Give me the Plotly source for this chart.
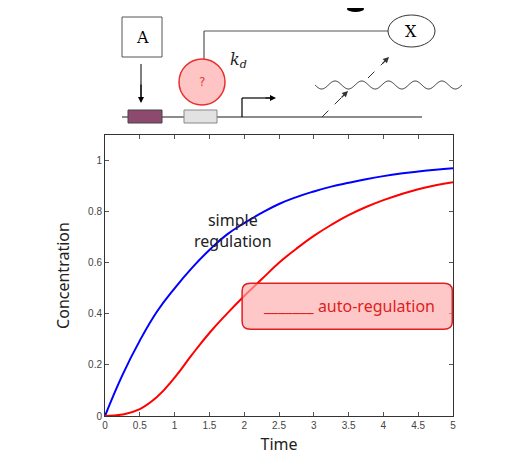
import numpy as np
import plotly.graph_objects as go

time = [0, 0.25, 0.5, 0.75, 1, 1.25, 1.5, 1.75, 2, 2.25, 2.5, 2.75, 3, 3.25, 3.5, 3.75, 4, 4.25, 4.5, 4.75, 5]
simple = [0, 0.16, 0.295, 0.41, 0.50, 0.58, 0.65, 0.71, 0.755, 0.795, 0.83, 0.857, 0.879, 0.898, 0.913, 0.927, 0.939, 0.949, 0.957, 0.964, 0.97]
auto = [0, 0.006, 0.027, 0.075, 0.15, 0.24, 0.325, 0.40, 0.47, 0.535, 0.60, 0.655, 0.705, 0.748, 0.786, 0.818, 0.845, 0.868, 0.888, 0.903, 0.915]
xticks = [0, 0.5, 1, 1.5, 2, 2.5, 3, 3.5, 4, 4.5, 5]
yticks = [0, 0.2, 0.4, 0.6, 0.8, 1]

W, H = 520, 471
OFF = 8
L, R, T, B = 105, 453, 135, 416
def px(x): return (x - L) / (R - L)
def py(y): return (B - y) / (B - T)

fig = go.Figure()
fig.add_trace(go.Scatter(x=time, y=simple, mode="lines", line=dict(color="#0000ff", width=2, shape="spline", smoothing=1.3), showlegend=False))
fig.add_trace(go.Scatter(x=time, y=auto, mode="lines", line=dict(color="#ff0000", width=2, shape="spline", smoothing=1.3), showlegend=False))

shapes = []
ann = []
def rect(x0, y0, x1, y1, fill, line="black", w=1):
    shapes.append(dict(type="rect", xref="paper", yref="paper", x0=px(x0), x1=px(x1), y0=py(y1), y1=py(y0),
                       fillcolor=fill, line=dict(color=line, width=w)))
def seg(x0, y0, x1, y1, color="#555", w=1.5, dash="solid"):
    shapes.append(dict(type="line", xref="paper", yref="paper", x0=px(x0), x1=px(x1), y0=py(y0), y1=py(y1),
                       line=dict(color=color, width=w, dash=dash)))
def arrowhead(x, y, dx, dy, color="black"):
    ann.append(dict(xref="paper", yref="paper", x=px(x), y=py(y), ax=dx, ay=dy, axref="pixel", ayref="pixel",
                    showarrow=True, arrowhead=2, arrowsize=1, arrowwidth=1.2, arrowcolor=color, text=""))
def txt(x, y, s, size=14, color="black", family="DejaVu Serif"):
    ann.append(dict(xref="paper", yref="paper", x=px(x), y=py(y), text=s, showarrow=False,
                    font=dict(size=size, color=color, family=family), xanchor="center", yanchor="middle"))

seg(122, 117, 422, 117, "#666", 1.5)
rect(122, 17, 162, 57, "white", "#555", 1)
txt(142, 38, "A", 16)
seg(141, 64, 141, 100, "black", 1)
arrowhead(141, 103, 0, -20)
rect(128, 110, 162, 123, "#8e4a6e", "#444", 1)
rect(184, 110, 217, 123, "#e2e2e2", "#888", 1)
seg(242, 117, 242, 98, "black", 1.2)
seg(242, 98, 270, 98, "black", 1.2)
arrowhead(276, 98, -12, 0)
seg(204, 60, 204, 31, "#555", 1.2)
seg(204, 31, 389, 31, "#555", 1.2)
shapes.append(dict(type="circle", xref="paper", yref="paper", x0=px(179), x1=px(225), y0=py(105), y1=py(59),
                   fillcolor="#ffc4c4", line=dict(color="#e83030", width=1.5)))
txt(202, 82, "?", 12, "#e04040", "DejaVu Sans")
txt(238, 61, "<i>k<sub>d</sub></i>", 16, "#222")
shapes.append(dict(type="circle", xref="paper", yref="paper", x0=px(388), x1=px(435), y0=py(47), y1=py(15),
                   fillcolor="white", line=dict(color="#333", width=1)))
txt(411, 31, "X", 16)
shapes.append(dict(type="circle", xref="paper", yref="paper", x0=px(347), x1=px(364), y0=py(12), y1=py(6),
                   fillcolor="black", line=dict(color="black", width=0)))
ws = np.linspace(315, 462, 200)
wy = 85 + 4 * np.sin((ws - 315) / 147 * 2 * np.pi * 5.5)
path = "M " + " L ".join(f"{px(a):.4f},{py(b):.4f}" for a, b in zip(ws, wy))
shapes.append(dict(type="path", xref="paper", yref="paper", path=path, line=dict(color="#333", width=1)))
seg(322, 117, 344, 95, "#333", 1, "dash")
arrowhead(348, 91, -8, 8, "#333")
seg(368, 78, 385, 61, "#333", 1, "dash")
arrowhead(389, 57, -8, 8, "#333")

x0, x1, y0, y1 = 1.97, 4.99, 0.34, 0.52
r, rv = 0.12, 0.03
p = (f"M {x0+r},{y0} L {x1-r},{y0} Q {x1},{y0} {x1},{y0+rv} L {x1},{y1-rv} Q {x1},{y1} {x1-r},{y1} "
     f"L {x0+r},{y1} Q {x0},{y1} {x0},{y1-rv} L {x0},{y0+rv} Q {x0},{y0} {x0+r},{y0} Z")
shapes.append(dict(type="path", xref="x", yref="y", path=p, fillcolor="rgba(255,170,170,0.65)",
                   line=dict(color="#e02020", width=1.5)))
ann.append(dict(x=3.5, y=0.43, xref="x", yref="y", text="_______ auto-regulation", showarrow=False,
                font=dict(size=16, color="#e02020", family="Noto Sans")))
ann.append(dict(x=1.84, y=0.725, xref="x", yref="y", text="simple<br>regulation", showarrow=False,
                font=dict(size=16, color="#222", family="Noto Sans")))

axis = dict(showgrid=False, zeroline=False, showline=True, linecolor="#333", linewidth=1, mirror="allticks",
            ticks="inside", ticklen=4, tickcolor="#555", tickfont=dict(size=10, color="#444", family="Liberation Sans"))
fig.update_layout(
    width=W, height=H, margin=dict(l=L - OFF, r=W - R + OFF, t=T - OFF, b=H - B + OFF),
    plot_bgcolor="white", paper_bgcolor="white",
    xaxis=dict(axis, range=[0, 5], tickvals=xticks, ticktext=[str(v) for v in xticks],
               title=dict(text="Time", font=dict(size=16, color="#222", family="Noto Sans"), standoff=8)),
    yaxis=dict(axis, range=[0, 1.1], tickvals=yticks, ticktext=[str(v) for v in yticks],
               title=dict(text="Concentration", font=dict(size=16, color="#222", family="Noto Sans"), standoff=14)),
    shapes=shapes, annotations=ann,
)
fig.write_html("out.html")
